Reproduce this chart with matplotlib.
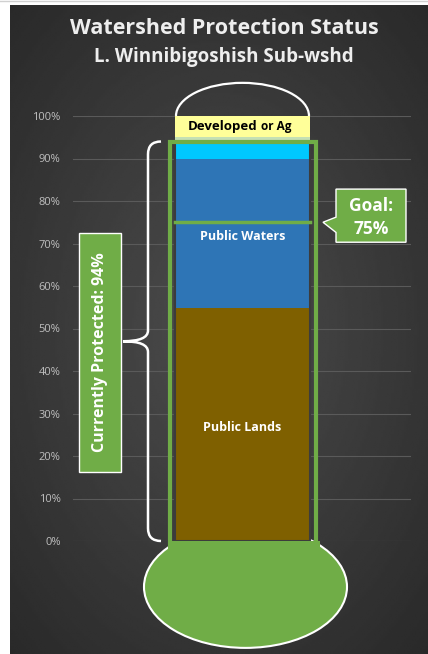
import numpy as np
import matplotlib.pyplot as plt
from matplotlib.patches import Rectangle, Ellipse, Arc, Polygon, PathPatch
from matplotlib.path import Path

# stacked shares of the sub-watershed, bottom to top (percent)
categories = ["Public Lands", "Public Waters", "Other Protected", "Other", "Developed or Ag"]
shares = [54.8, 35.2, 4.0, 1.0, 5.0]
colors = ["#7f6000", "#2e75b6", "#00c8ff", "#c5e0b4", "#ffff99"]
goal = 75
protected = 94

plt.rcParams['font.family'] = ['Open Sans', 'DejaVu Sans']

fig = plt.figure(figsize=(4.28, 6.54), dpi=100)
fig.patch.set_facecolor("white")
W, H = 428, 654

# dark backdrop with a soft radial glow
bg = fig.add_axes([10 / W, 0, (W - 10) / W, (H - 5) / H])
yy, xx = np.mgrid[0:1:300j, 0:1:200j]
r = np.sqrt(((xx - 0.5) / 0.8) ** 2 + ((yy - 0.5) / 0.75) ** 2)
glow = 0.15 + 0.15 * np.clip(1 - r, 0, 1)
bg.imshow(glow, cmap="gray", vmin=0, vmax=1, aspect="auto",
          extent=[0, 1, 0, 1], interpolation="bilinear")
bg.axis("off")
fig.add_artist(plt.Line2D([0, 1], [1 - 1 / H, 1 - 1 / H], color="#d0d0d0", lw=1))

ax = fig.add_axes([73 / W, 113 / H, 338 / W, 425 / H])
ax.set_xlim(73, 411)
ax.set_ylim(0, 100)
ax.patch.set_alpha(0)
for s in ax.spines.values():
    s.set_visible(False)
ax.set_yticks(range(0, 101, 10))
ax.set_yticklabels([f"{v}%" for v in range(0, 101, 10)], color="#bfbfbf", fontsize=8)
ax.tick_params(length=0, pad=9)
ax.set_xticks([])
ax.grid(axis="y", color="#5a5a5a", lw=0.8)
ax.set_axisbelow(True)

green = "#70ad47"
cx, bw = 242.5, 135

# bulb (its top hides under the column) and neck
ax.add_patch(Ellipse((cx + 3, -10.8), 203, 28.7, facecolor=green, edgecolor="white",
                     lw=1.5, clip_on=False, zorder=2))
ax.add_patch(Rectangle((168, -2.8), 151.5, 2.8, facecolor=green, edgecolor="none",
                       clip_on=False, zorder=2.5))

# stacked column
bottom = 0
for share, col in zip(shares, colors):
    ax.bar(cx, share, bw, bottom=bottom, color=col, edgecolor="none", zorder=3)
    bottom += share
ax.add_patch(Rectangle((cx - bw / 2, 0), bw, sum(shares[:3]), fill=False,
                       edgecolor="#3c3c3c", lw=1.5, zorder=4))

# top dome
ax.add_patch(Arc((cx, 100), 133, 15.6, theta1=0, theta2=180, color="white",
                 lw=1.6, clip_on=False, zorder=3))

# protected outline and goal line
ax.add_patch(Rectangle((169.5, -0.9), 146.5, protected + 0.9, fill=False,
                       edgecolor=green, lw=3, clip_on=False, zorder=5))
ax.plot([cx - bw / 2, cx + bw / 2], [goal, goal], color=green, lw=2.5, zorder=5)

# labels inside the column
ax.text(cx, 71.7, "Public Waters", ha="center", va="center", color="white",
        fontsize=9, fontweight="bold", zorder=6)
ax.text(cx, 26.8, "Public Lands", ha="center", va="center", color="white",
        fontsize=9, fontweight="bold", zorder=6)
ax.text(cx + 15, 97.6, "Developed", ha="right", va="center", color="black",
        fontsize=9.5, fontweight="bold", zorder=6)
ax.text(cx + 18, 97.6, "or Ag", ha="left", va="center", color="black",
        fontsize=8.5, fontweight="bold", zorder=6)

# curly brace spanning the protected share
top, mid = protected, protected / 2
xv, xt, xe = 148, 123, 161
verts = [(xe, top), (xv, top), (xv, top - 3), (xv, mid + 2.5),
         (xv, mid), (xt, mid),
         (xv, mid), (xv, mid - 2.5), (xv, 3), (xv, 0), (xe, 0)]
codes = [Path.MOVETO, Path.CURVE3, Path.CURVE3, Path.LINETO,
         Path.CURVE3, Path.CURVE3,
         Path.CURVE3, Path.CURVE3, Path.LINETO, Path.CURVE3, Path.CURVE3]
ax.add_patch(PathPatch(Path(verts, codes), fill=False, edgecolor="white", lw=1.8,
                       clip_on=False, zorder=4))

# protected call-out box
ax.add_patch(Rectangle((79, (541 - 472) / 4.25), 42, 239 / 4.25, facecolor=green,
                       edgecolor="white", lw=1, clip_on=False, zorder=4))
ax.text(100, (541 - 352) / 4.25, f"Currently Protected: {protected}%", rotation=90,
        ha="center", va="center", color="white", fontsize=11.5, fontweight="bold",
        zorder=5)

# goal call-out
gy = goal
box = [(336, gy + 1.2), (336, gy + 7.8), (406, gy + 7.8), (406, gy - 4.7),
       (336, gy - 4.7), (336, gy - 2.4), (323, gy)]
ax.add_patch(Polygon(box, closed=True, facecolor=green, edgecolor="white", lw=1,
                     clip_on=False, zorder=4))
ax.text(371, gy + 3.9, "Goal:", ha="center", va="center", color="white",
        fontsize=12.5, fontweight="bold", zorder=5)
ax.text(371, gy - 1.7, f"{goal}%", ha="center", va="center", color="white",
        fontsize=12.5, fontweight="bold", zorder=5)

# titles
fig.text(224 / W, 1 - 29 / H, "Watershed Protection Status", ha="center", va="center",
         color="#eeeeee", fontsize=15.5, fontweight="bold")
fig.text(224 / W, 1 - 57 / H, "L. Winnibigoshish Sub-wshd", ha="center", va="center",
         color="#eeeeee", fontsize=13.5, fontweight="bold")

fig.savefig("out.png", dpi=100)
